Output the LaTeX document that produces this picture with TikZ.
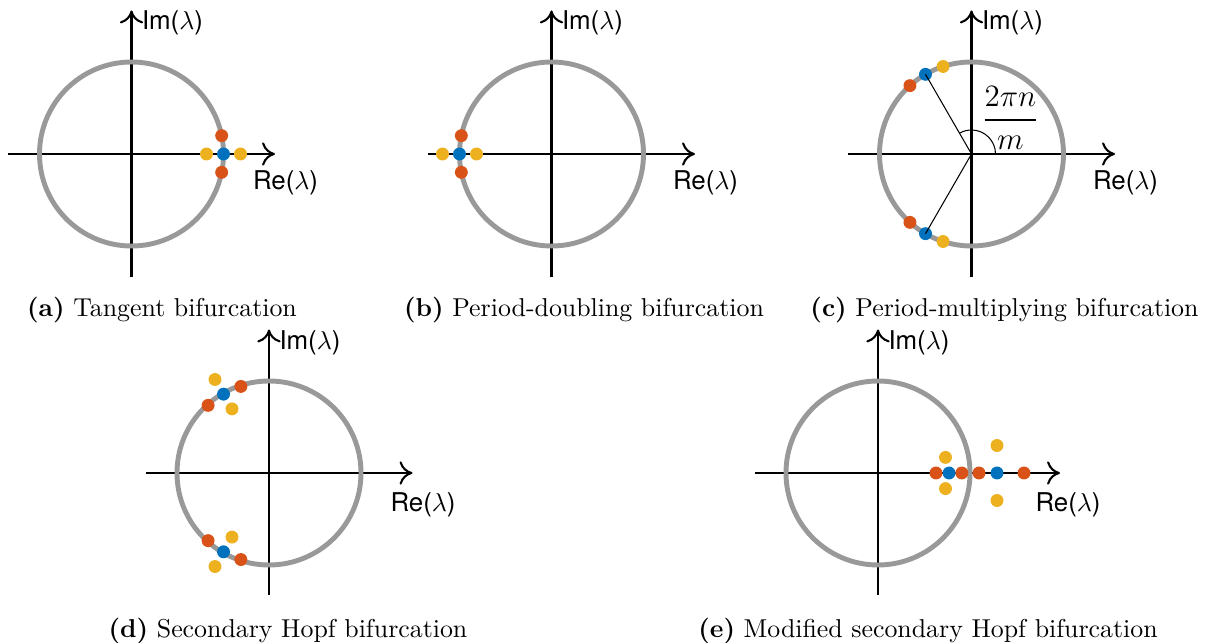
\documentclass[tikz,border=0pt]{standalone}
\usepackage{amsmath}
\usepackage{fontspec}
\setsansfont{TeX Gyre Heros}
\usetikzlibrary{arrows.meta}
\definecolor{eigblue}{RGB}{0,114,189}
\definecolor{eigred}{RGB}{217,83,25}
\definecolor{eigyellow}{RGB}{237,177,32}
\definecolor{ringgray}{RGB}{153,153,153}

\begin{document}
\begin{tikzpicture}[
    x=0.0136cm, y=0.0136cm,
    ring/.style={draw=ringgray, line width=1.9pt},
    axis/.style={-{Computer Modern Rightarrow[length=5pt,width=9pt]}, line width=0.8pt},
    dot/.style={circle, inner sep=0pt, minimum size=5pt, draw=none},
    lbl/.style={font=\sffamily, anchor=west, inner sep=0pt},
    subcap/.style={inner sep=0pt}
  ]
  \useasboundingbox (0,0) rectangle (1206,643);

  % (a) tangent
  \begin{scope}[shift={(131.5,489)}]
    \coordinate (a-o) at (0,0);
    \coordinate (a-w) at (-123.5,0);
    \coordinate (a-e) at (143.5,0);
    \coordinate (a-s) at (0,-123.5);
    \coordinate (a-n) at (0,143.5);
    \draw[axis] (a-w) -- (a-e);
    \draw[axis] (a-s) -- (a-n);
    \draw[ring] (a-o) circle (92);
    \node[dot, fill=eigyellow] (a-y1) at (75,0) {};
    \node[dot, fill=eigyellow] (a-y2) at (109,0) {};
    \node[dot, fill=eigred] (a-r1) at (11.5:92) {};
    \node[dot, fill=eigred] (a-r2) at (-11.5:92) {};
    \node[dot, fill=eigblue] (a-b) at (92,0) {};
    \node[lbl] (a-im) at (10,131) {Im($\lambda$)};
    \node[lbl] (a-re) at (121,-29) {Re($\lambda$)};
  \end{scope}
  \node[subcap] (a-cap) at (162,333) {\textbf{(a)} Tangent bifurcation};

  % (b) period doubling
  \begin{scope}[shift={(551.5,489)}]
    \coordinate (b-o) at (0,0);
    \coordinate (b-w) at (-123.5,0);
    \coordinate (b-e) at (143.5,0);
    \coordinate (b-s) at (0,-123.5);
    \coordinate (b-n) at (0,143.5);
    \draw[axis] (b-w) -- (b-e);
    \draw[axis] (b-s) -- (b-n);
    \draw[ring] (b-o) circle (92);
    \node[dot, fill=eigyellow] (b-y1) at (-109,0) {};
    \node[dot, fill=eigyellow] (b-y2) at (-75,0) {};
    \node[dot, fill=eigred] (b-r1) at (168.5:92) {};
    \node[dot, fill=eigred] (b-r2) at (191.5:92) {};
    \node[dot, fill=eigblue] (b-b) at (-92,0) {};
    \node[lbl] (b-im) at (10,131) {Im($\lambda$)};
    \node[lbl] (b-re) at (121,-29) {Re($\lambda$)};
  \end{scope}
  \node[subcap] (b-cap) at (584,333) {\textbf{(b)} Period-doubling bifurcation};

  % (c) period multiplying
  \begin{scope}[shift={(971.5,489)}]
    \coordinate (c-o) at (0,0);
    \coordinate (c-w) at (-123.5,0);
    \coordinate (c-e) at (143.5,0);
    \coordinate (c-s) at (0,-123.5);
    \coordinate (c-n) at (0,143.5);
    \draw[axis] (c-w) -- (c-e);
    \draw[axis] (c-s) -- (c-n);
    \draw[ring] (c-o) circle (92);
    \node[dot, fill=eigred] (c-r1) at (132:92) {};
    \node[dot, fill=eigyellow] (c-y1) at (108:92) {};
    \node[dot, fill=eigblue] (c-b1) at (120:92) {};
    \node[dot, fill=eigred] (c-r2) at (228:92) {};
    \node[dot, fill=eigyellow] (c-y2) at (252:92) {};
    \node[dot, fill=eigblue] (c-b2) at (240:92) {};
    \draw[thin] (c-o) -- (c-b1.center);
    \draw[thin] (c-o) -- (c-b2.center);
    \draw[thin] (c-o) ++(24,0) arc[start angle=0, end angle=120, radius=24];
    \node[font=\large] (c-ang) at (39,36) {$\dfrac{2\pi n}{m}$};
    \node[lbl] (c-im) at (10,131) {Im($\lambda$)};
    \node[lbl] (c-re) at (121,-29) {Re($\lambda$)};
  \end{scope}
  \node[subcap] (c-cap) at (1004.5,333) {\textbf{(c)} Period-multiplying bifurcation};

  % (d) secondary Hopf
  \begin{scope}[shift={(269,170)}]
    \coordinate (d-o) at (0,0);
    \coordinate (d-w) at (-123,0);
    \coordinate (d-e) at (143.5,0);
    \coordinate (d-s) at (0,-122);
    \coordinate (d-n) at (0,143.5);
    \draw[axis] (d-w) -- (d-e);
    \draw[axis] (d-s) -- (d-n);
    \draw[ring] (d-o) circle (92);
    \node[dot, fill=eigred] (d-r1) at (108:91) {};
    \node[dot, fill=eigred] (d-r2) at (132:91) {};
    \node[dot, fill=eigyellow] (d-y1) at (120:108) {};
    \node[dot, fill=eigyellow] (d-y2) at (120:74) {};
    \node[dot, fill=eigblue] (d-b1) at (120:91) {};
    \node[dot, fill=eigred] (d-r3) at (228:91) {};
    \node[dot, fill=eigred] (d-r4) at (252:91) {};
    \node[dot, fill=eigyellow] (d-y3) at (240:108) {};
    \node[dot, fill=eigyellow] (d-y4) at (240:74) {};
    \node[dot, fill=eigblue] (d-b2) at (240:91) {};
    \node[lbl] (d-im) at (10,130) {Im($\lambda$)};
    \node[lbl] (d-re) at (121,-32) {Re($\lambda$)};
  \end{scope}
  \node[subcap] (d-cap) at (288,12) {\textbf{(d)} Secondary Hopf bifurcation};

  % (e) modified secondary Hopf
  \begin{scope}[shift={(878,170)}]
    \coordinate (e-o) at (0,0);
    \coordinate (e-w) at (-123,0);
    \coordinate (e-e) at (182,0);
    \coordinate (e-s) at (0,-122);
    \coordinate (e-n) at (0,143.5);
    \draw[axis] (e-w) -- (e-e);
    \draw[axis] (e-s) -- (e-n);
    \draw[ring] (e-o) circle (92);
    \node[dot, fill=eigyellow] (e-y1) at (67.5,15.6) {};
    \node[dot, fill=eigyellow] (e-y2) at (67.5,-15.6) {};
    \node[dot, fill=eigyellow] (e-y3) at (119,27.5) {};
    \node[dot, fill=eigyellow] (e-y4) at (119,-27.5) {};
    \node[dot, fill=eigred] (e-r1) at (58,0) {};
    \node[dot, fill=eigred] (e-r2) at (83.8,0) {};
    \node[dot, fill=eigred] (e-r3) at (101,0) {};
    \node[dot, fill=eigred] (e-r4) at (146,0) {};
    \node[dot, fill=eigblue] (e-b1) at (71.1,0) {};
    \node[dot, fill=eigblue] (e-b2) at (119,0) {};
    \node[lbl] (e-im) at (10,130) {Im($\lambda$)};
    \node[lbl] (e-re) at (157,-32) {Re($\lambda$)};
  \end{scope}
  \node[subcap] (e-cap) at (928,12) {\textbf{(e)} Modified secondary Hopf bifurcation};
\end{tikzpicture}
\end{document}
